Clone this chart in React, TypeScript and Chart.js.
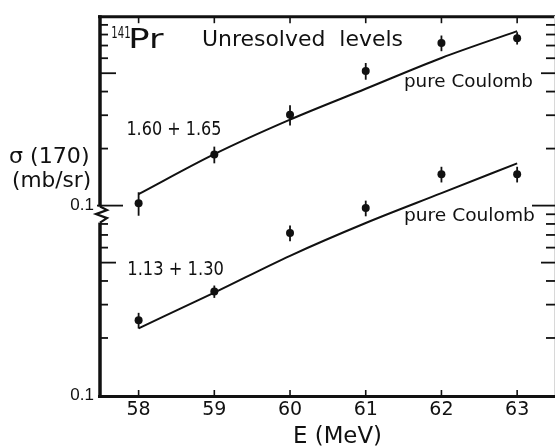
import React, { useEffect, useRef } from 'react';
import { Chart, registerables } from 'chart.js';

Chart.register(...registerables);

// Beam energy (MeV)
const energies = [58, 59, 60, 61, 62, 63];

// Upper group "1.60 + 1.65" (read on the upper decade of the log axis)
const upperMeasured = [0.103, 0.186, 0.302, 0.514, 0.722, 0.766];
const upperErrors = [0.0146, 0.0188, 0.0369, 0.052, 0.0686, 0.0575];
const upperCoulomb = [0.115, 0.187, 0.2845, 0.414, 0.602, 0.834];

// Lower group "1.13 + 1.30" (drawn one decade lower on the same log axis)
const lowerMeasured = [0.0248, 0.0352, 0.0717, 0.097, 0.1464, 0.1464];
const lowerErrors = [0.00235, 0.00264, 0.0068, 0.0092, 0.0139, 0.0139];
const lowerCoulomb = [0.0225, 0.0347, 0.0543, 0.0809, 0.1163, 0.1672];

// Axis ticks
const xTickValues = [58, 59, 60, 61, 62, 63];
const yTickValues = [0.01, 0.1];
const yTickLabels = ['0.1', '0.1'];
const leftMinorTicks = [0.02, 0.03, 0.04, 0.05, 0.06, 0.07, 0.08, 0.1, 0.2, 0.3, 0.4, 0.5, 0.6, 0.7, 0.8, 0.9];
const rightMinorTicks = [0.02, 0.03, 0.04, 0.05, 0.06, 0.07, 0.08, 0.09, 0.1, 0.2, 0.3, 0.4, 0.5, 0.6, 0.7, 0.8, 0.9];
const mediumTicks = [0.05, 0.5];
const majorTicks = [0.1];

const INK = '#111';
const FONT = 'DejaVu Sans';

function fitText(ctx: CanvasRenderingContext2D, text: string, left: number, baseline: number, size: number, width: number) {
  ctx.save();
  ctx.font = `${size}px "${FONT}"`;
  ctx.textAlign = 'left';
  ctx.textBaseline = 'alphabetic';
  ctx.fillStyle = INK;
  const m = ctx.measureText(text);
  const inkW = m.actualBoundingBoxLeft + m.actualBoundingBoxRight;
  const sx = width / inkW;
  ctx.translate(left, baseline);
  ctx.scale(sx, 1);
  ctx.fillText(text, m.actualBoundingBoxLeft, 0);
  ctx.restore();
}

const decorPlugin = {
  id: 'decor',
  afterDatasetsDraw(chart: any) {
    const ctx: CanvasRenderingContext2D = chart.ctx;
    const xs = chart.scales.x;
    const ys = chart.scales.y;
    ctx.save();
    ctx.strokeStyle = INK;
    ctx.lineWidth = 1.8;
    const groups = [
      [upperMeasured, upperErrors],
      [lowerMeasured, lowerErrors],
    ];
    groups.forEach(([vals, errs]) => {
      vals.forEach((v, i) => {
        const px = xs.getPixelForValue(energies[i]);
        const t = ys.getPixelForValue(v + errs[i]);
        const b = ys.getPixelForValue(v - errs[i]);
        ctx.beginPath();
        ctx.moveTo(px, t);
        ctx.lineTo(px, b);
        ctx.stroke();
      });
    });
    ctx.restore();
  },
  afterDraw(chart: any) {
    const ctx: CanvasRenderingContext2D = chart.ctx;
    const { left, right, top, bottom } = chart.chartArea;
    const xs = chart.scales.x;
    const ys = chart.scales.y;
    ctx.save();
    ctx.strokeStyle = INK;
    ctx.lineCap = 'butt';

    // top border
    ctx.lineWidth = 3;
    ctx.beginPath();
    ctx.moveTo(left - 2, top + 0.5);
    ctx.lineTo(right, top + 0.5);
    ctx.stroke();
    // bottom axis
    ctx.beginPath();
    ctx.moveTo(left - 2, bottom + 1.5);
    ctx.lineTo(right, bottom + 1.5);
    ctx.stroke();

    // left axis with break
    const yBreak = ys.getPixelForValue(0.1);
    ctx.lineWidth = 3.5;
    ctx.beginPath();
    ctx.moveTo(left, top - 1);
    ctx.lineTo(left, yBreak + 1);
    ctx.stroke();
    ctx.beginPath();
    ctx.moveTo(left, yBreak + 17);
    ctx.lineTo(left, bottom + 3);
    ctx.stroke();
    ctx.lineWidth = 2.2;
    ctx.lineJoin = 'miter';
    ctx.beginPath();
    ctx.moveTo(left, yBreak + 1);
    ctx.lineTo(left + 7, yBreak + 4.5);
    ctx.lineTo(left - 4, yBreak + 8.5);
    ctx.lineTo(left + 7, yBreak + 12.5);
    ctx.lineTo(left, yBreak + 17);
    ctx.stroke();

    // faint right edge
    ctx.strokeStyle = '#d8d8d8';
    ctx.lineWidth = 1;
    ctx.beginPath();
    ctx.moveTo(right - 0.5, top);
    ctx.lineTo(right - 0.5, bottom);
    ctx.stroke();
    ctx.strokeStyle = INK;

    // y ticks (inward)
    ctx.lineWidth = 1.8;
    leftMinorTicks.forEach((v) => {
      const py = ys.getPixelForValue(v);
      const len = majorTicks.includes(v) ? 23 : mediumTicks.includes(v) ? 16 : 8;
      ctx.beginPath();
      ctx.moveTo(left - (majorTicks.includes(v) ? 3 : 0), py);
      ctx.lineTo(left + len, py);
      ctx.stroke();
    });
    rightMinorTicks.forEach((v) => {
      const py = ys.getPixelForValue(v);
      const len = majorTicks.includes(v) ? 23 : mediumTicks.includes(v) ? 14 : 9;
      ctx.beginPath();
      ctx.moveTo(right, py);
      ctx.lineTo(right - len, py);
      ctx.stroke();
    });

    // x ticks (inward, bottom and top)
    ctx.lineWidth = 1.6;
    xTickValues.forEach((v) => {
      const px = xs.getPixelForValue(v);
      ctx.beginPath();
      ctx.moveTo(px, bottom);
      ctx.lineTo(px, bottom - 5);
      ctx.stroke();
      ctx.beginPath();
      ctx.moveTo(px, top + 1);
      ctx.lineTo(px, top + 7);
      ctx.stroke();
    });
    ctx.restore();

    // texts
    fitText(ctx, '141', 112, 38, 16, 18);
    fitText(ctx, 'Pr', 131, 48, 26, 33);
    fitText(ctx, 'Unresolved  levels', 203, 46, 21, 199);
    fitText(ctx, 'pure Coulomb', 405, 87, 17, 127);
    fitText(ctx, 'pure Coulomb', 405, 221, 17, 129);
    fitText(ctx, '1.60 + 1.65', 128, 135, 20, 92);
    fitText(ctx, '1.13 + 1.30', 129, 275, 19, 94);
    fitText(ctx, 'σ (170)', 10, 163, 22, 78);
    fitText(ctx, '(mb/sr)', 13, 187, 21, 77);
    fitText(ctx, 'E (MeV)', 295, 443, 23, 85);
  },
};

export default function App() {
  const ref = useRef<HTMLCanvasElement>(null);
  useEffect(() => {
    const pts = (vals: number[]) => energies.map((e, i) => ({ x: e, y: vals[i] }));
    const chart = new Chart(ref.current as HTMLCanvasElement, {
      type: 'scatter',
      data: {
        datasets: [
          {
            label: 'pure Coulomb (1.60 + 1.65)',
            data: pts(upperCoulomb),
            showLine: true,
            borderColor: INK,
            borderWidth: 2,
            pointRadius: 0,
            cubicInterpolationMode: 'monotone',
          } as any,
          {
            label: 'pure Coulomb (1.13 + 1.30)',
            data: pts(lowerCoulomb),
            showLine: true,
            borderColor: INK,
            borderWidth: 2,
            pointRadius: 0,
            cubicInterpolationMode: 'monotone',
          } as any,
          {
            label: '1.60 + 1.65',
            data: pts(upperMeasured),
            pointRadius: 4,
            pointBackgroundColor: INK,
            pointBorderWidth: 0,
          },
          {
            label: '1.13 + 1.30',
            data: pts(lowerMeasured),
            pointRadius: 4,
            pointBackgroundColor: INK,
            pointBorderWidth: 0,
          },
        ],
      },
      options: {
        responsive: false,
        animation: false,
        events: [],
        layout: { padding: { top: 14, left: 0, right: 0, bottom: 0 } },
        plugins: { legend: { display: false }, tooltip: { enabled: false } },
        scales: {
          x: {
            type: 'linear',
            min: 57.49,
            max: 63.5,
            afterFit: (s: any) => { s.height = 53; },
            afterBuildTicks: (s: any) => { s.ticks = xTickValues.map((v) => ({ value: v })); },
            grid: { display: false, drawTicks: false },
            border: { display: false },
            ticks: {
              color: INK,
              font: { family: FONT, size: 19 },
              padding: 4,
              maxRotation: 0,
              autoSkip: false,
              callback: (v: any) => String(v),
            },
          },
          y: {
            type: 'logarithmic',
            min: 0.01,
            max: 1,
            afterFit: (s: any) => { s.width = 100; },
            afterBuildTicks: (s: any) => { s.ticks = yTickValues.map((v) => ({ value: v })); },
            grid: { display: false, drawTicks: false },
            border: { display: false },
            ticks: {
              color: INK,
              font: { family: 'Liberation Sans', size: 17 },
              padding: 6,
              autoSkip: false,
              callback: (_v: any, i: number) => yTickLabels[i],
            },
          },
        },
      } as any,
      plugins: [decorPlugin],
    });
    return () => chart.destroy();
  }, []);
  return (
    <div style={{ position: 'fixed', left: 0, top: 0, width: 559, height: 448, background: '#fff' }}>
      <canvas ref={ref} width={559} height={448} style={{ display: 'block', width: 559, height: 448 }} />
    </div>
  );
}
